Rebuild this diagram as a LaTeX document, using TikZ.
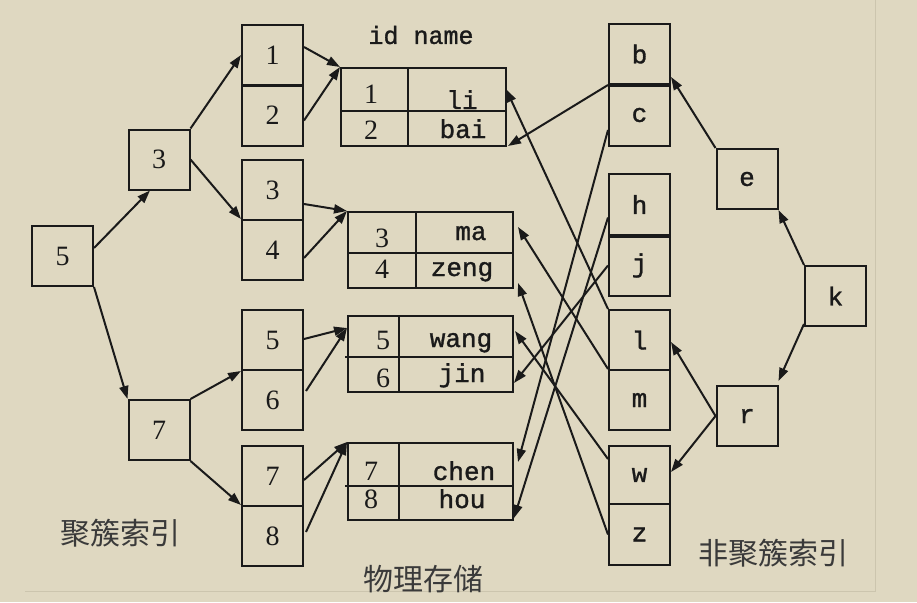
\documentclass[tikz,border=0pt]{standalone}
\usepackage{fontspec}
\setmainfont{Liberation Serif}
\newfontfamily\monof[BoldFont={Liberation Mono},BoldFeatures={FakeBold=1.2}]{Liberation Mono}
\newfontfamily\cjkf{Noto Sans CJK SC}
\usetikzlibrary{arrows.meta,calc}
\definecolor{bgc}{HTML}{DFD8C1}
\definecolor{framec}{HTML}{CCC5AE}
\definecolor{inkc}{HTML}{1A1A1A}
\definecolor{cjkc}{HTML}{3A3A3A}
\begin{document}
\begin{tikzpicture}[x=1pt,y=-1pt,
  box/.style={draw=inkc, line width=2pt, minimum width=61pt, minimum height=60pt,
    inner sep=0pt, text=inkc, font=\fontsize{28}{28}\selectfont},
  lbox/.style={box, font=\monof\bfseries\fontsize{26}{26}\selectfont},
  tbl/.style={draw=inkc, line width=2pt, minimum width=165pt, inner sep=0pt},
  tline/.style={draw=inkc, line width=2pt},
  celld/.style={anchor=base, inner sep=0pt, text=inkc, font=\fontsize{28}{28}\selectfont},
  celln/.style={anchor=base, inner sep=0pt, text=inkc, font=\monof\bfseries\fontsize{26}{26}\selectfont},
  cjklabel/.style={inner sep=0pt, text=cjkc, font=\cjkf\fontsize{30}{30}\selectfont},
  arr/.style={draw=inkc, line width=2pt, -{Triangle[length=13pt,width=9pt]}}]
\useasboundingbox (0,0) rectangle (917,602);
\fill[bgc] (0,0) rectangle (917,602);
\draw[framec, line width=0.8pt] (875,0) -- (875,591) -- (25,591);

% clustered index
\node[box] (n5) at (62.5,256) {5};
\node[box] (n3) at (159,159.5) {3};
\node[box] (n7) at (159,430) {7};
\node[box] (c1) at (272.5,55) {1};
\node[box] (c2) at (272.5,115.5) {2};
\node[box] (c3) at (272.5,190) {3};
\node[box] (c4) at (272.5,250) {4};
\node[box] (c5) at (272.5,340) {5};
\node[box] (c6) at (272.5,400) {6};
\node[box] (c7) at (272.5,476) {7};
\node[box] (c8) at (272.5,536) {8};

% physical storage tables
\node[inner sep=0pt, text=inkc, font=\monof\bfseries\fontsize{25}{25}\selectfont] (hdr) at (421,35) {id name};
\node[tbl, minimum height=78pt] (t1) at (423.5,107) {};
\draw[tline] (341,111) -- (506,111);
\draw[tline] (408,68) -- (408,146);
\node[celld] (t1a) at (371,103) {1};
\node[celln] (t1b) at (462,109) {li};
\node[celld] (t1c) at (371,139) {2};
\node[celln] (t1d) at (463,138) {bai};

\node[tbl, minimum height=76pt] (t2) at (430.5,250) {};
\draw[tline] (348,253) -- (513,253);
\draw[tline] (416,212) -- (416,288);
\node[celld] (t2a) at (382,247) {3};
\node[celln] (t2b) at (471,240) {ma};
\node[celld] (t2c) at (382,278) {4};
\node[celln] (t2d) at (462,276) {zeng};

\node[tbl, minimum height=76pt] (t3) at (430.5,354) {};
\draw[tline] (345,357) -- (513,357);
\draw[tline] (399,316) -- (399,392);
\node[celld] (t3a) at (383,349) {5};
\node[celln] (t3b) at (461,347) {wang};
\node[celld] (t3c) at (383,387) {6};
\node[celln] (t3d) at (462,382) {jin};

\node[tbl, minimum height=77pt] (t4) at (430.5,481.5) {};
\draw[tline] (345,486) -- (513,486);
\draw[tline] (399,443) -- (399,520);
\node[celld] (t4a) at (371,480) {7};
\node[celln] (t4b) at (464,480) {chen};
\node[celld] (t4c) at (371,508) {8};
\node[celln] (t4d) at (462,508) {hou};

% non-clustered index
\node[lbox] (rb) at (639.5,54) {b};
\node[lbox, minimum height=62pt] (rc) at (639.5,115) {c};
\node[lbox, minimum height=61pt] (rh) at (639.5,204.5) {h};
\node[lbox, minimum height=61pt] (rj) at (639.5,265.5) {j};
\node[lbox] (rl) at (639.5,340) {l};
\node[lbox] (rm) at (639.5,400) {m};
\node[lbox, minimum height=58pt] (rw) at (639.5,475) {w};
\node[lbox, minimum height=61pt] (rz) at (639.5,534.5) {z};
\node[lbox] (re) at (747,179) {e};
\node[lbox] (rk) at (835.5,296) {k};
\node[lbox] (rr) at (747,416) {r};
\draw[inkc, line width=3.2pt] (rb.south west) -- (rb.south east);
\draw[inkc, line width=3.2pt] (rh.south west) -- (rh.south east);

% labels
\node[cjklabel] (lab1) at (120,533) {聚簇索引};
\node[cjklabel] (lab2) at (423,579) {物理存储};
\node[cjklabel] (lab3) at (773,553) {非聚簇索引};

% clustered index connectors
\draw[arr] ([yshift=8pt]n5.east) -- ([xshift=-9pt]n3.south);
\draw[arr] (n5.south east) -- (n7.north west);
\draw[arr] (n3.north east) -- (c1.west);
\draw[arr] (n3.east) -- ([yshift=2pt]c3.south west);
\draw[arr] (n7.north east) -- (c5.south west);
\draw[arr] (n7.south east) -- ([yshift=2pt]c7.south west);
\draw[arr] ([yshift=8pt]c1.east) -- (t1.north west);
\draw[arr] ([yshift=-5pt]c2.east) -- (t1.north west);
\draw[arr] ([yshift=-14pt]c3.east) -- (t2.north west);
\draw[arr] ([yshift=-8pt]c4.east) -- (t2.north west);
\draw[arr] ([yshift=1pt]c5.east) -- ([yshift=-13pt]t3.north west);
\draw[arr] ([xshift=2pt,yshift=9pt]c6.east) -- ([yshift=-13pt]t3.north west);
\draw[arr] ([yshift=-4pt]c7.east) -- (t4.north west);
\draw[arr] ([xshift=2pt,yshift=4pt]c8.east) -- (t4.north west);

% non-clustered index connectors
\draw[arr] (rb.south west) -- ([xshift=1pt,yshift=1pt]t1.south east);
\draw[arr] (rl.north west) -- ([xshift=-1pt,yshift=-22pt]t1.north east);
\draw[arr] ([yshift=-15pt]rc.west) -- ([xshift=4pt,yshift=-20pt]t4.north east);
\draw[arr] ([yshift=-13pt]rh.west) -- ([yshift=3pt]t4.south east);
\draw[arr] (rj.west) -- ([yshift=10pt]t3.south east);
\draw[arr] (rm.north west) -- ([xshift=4pt,yshift=-16pt]t2.north east);
\draw[arr] (rz.west) -- ([xshift=4pt,yshift=6pt]t2.south east);
\draw[arr] ([yshift=-14pt]rw.north west) -- ([xshift=1pt,yshift=-16pt]t3.north east);
\draw[arr] (re.north west) -- ([yshift=8pt]rb.south east);
\draw[arr] (rk.north west) -- (re.south east);
\draw[arr] ([yshift=3pt]rk.south west) -- ([yshift=4pt]rr.north east);
\draw[arr] (rr.west) -- ([yshift=-2pt]rl.east);
\draw[arr] (rr.west) -- ([yshift=3pt]rw.east);
\end{tikzpicture}
\end{document}
